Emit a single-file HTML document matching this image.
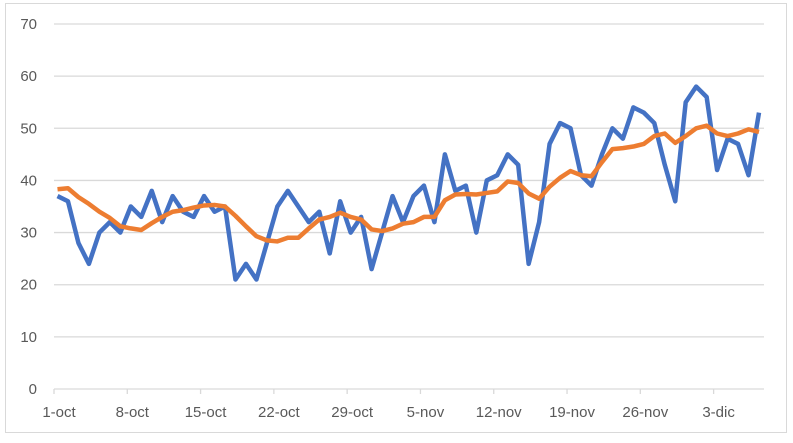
<!DOCTYPE html>
<html><head><meta charset="utf-8"><style>
html,body{margin:0;padding:0;background:#fff;width:793px;height:443px;overflow:hidden}
svg{display:block}
text{font-family:"Liberation Sans",sans-serif;font-size:15px;fill:#595959}
</style></head><body>
<svg id="s" width="793" height="443" xmlns="http://www.w3.org/2000/svg">
<rect x="5.5" y="3.5" width="781" height="429" fill="#fff" stroke="#d9d9d9" stroke-width="1"/>
<g id="grid" stroke="#d9d9d9" stroke-width="1.3"></g>
<g id="lbl"></g>
<polyline id="b" fill="none" stroke="#4472c4" stroke-width="4.5" stroke-linejoin="round"/>
<polyline id="o" fill="none" stroke="#ed7d31" stroke-width="4.5" stroke-linejoin="round"/>
</svg>
<script>
var blue=[37,36,28,24,30,32,30,35,33,38,32,37,34,33,37,34,35,21,24,21,28,35,38,35,32,34,26,36,30,33,23,30,37,32,37,39,32,45,38,39,30,40,41,45,43,24,32,47,51,50,41,39,45,50,48,54,53,51,43,36,55,58,56,42,48,47,41,53];
var orange=[38.3,38.5,36.8,35.5,34,32.8,31.2,30.8,30.5,31.8,33,34,34.3,34.8,35.2,35.3,35,33.2,31.2,29.3,28.5,28.3,29,29,30.8,32.5,33,33.8,33,32.5,30.6,30.3,30.8,31.7,32,33,33,36.2,37.3,37.4,37.3,37.6,37.9,39.8,39.5,37.5,36.5,38.8,40.5,41.8,41,40.8,43.5,46,46.2,46.5,47,48.5,49,47.2,48.5,50,50.5,49,48.5,49,49.8,49.3];
var x0=57.5,st=10.47,y0=389,sc=365/70;
function X(i){return x0+i*st}function Y(v){return y0-v*sc}
document.getElementById('b').setAttribute('points',blue.map(function(v,i){return X(i)+','+Y(v)}).join(' '));
document.getElementById('o').setAttribute('points',orange.map(function(v,i){return X(i)+','+Y(v)}).join(' '));
var g=document.getElementById('grid'),l=document.getElementById('lbl');
var gh='',lh='';
for(var k=0;k<=7;k++){var y=Y(k*10);gh+='<line x1="54" x2="764" y1="'+y+'" y2="'+y+'"/>';lh+='<text x="37" y="'+(y+5)+'" text-anchor="end">'+(k*10)+'</text>';}
var labs=['1-oct','8-oct','15-oct','22-oct','29-oct','5-nov','12-nov','19-nov','26-nov','3-dic'];
for(var k=0;k<labs.length;k++){var x=54+k*7*st;gh+='<line x1="'+x+'" x2="'+x+'" y1="389" y2="394"/>';lh+='<text x="'+(x+5)+'" y="417" text-anchor="middle">'+labs[k]+'</text>';}
g.innerHTML=gh;l.innerHTML=lh;
</script>
</body></html>
